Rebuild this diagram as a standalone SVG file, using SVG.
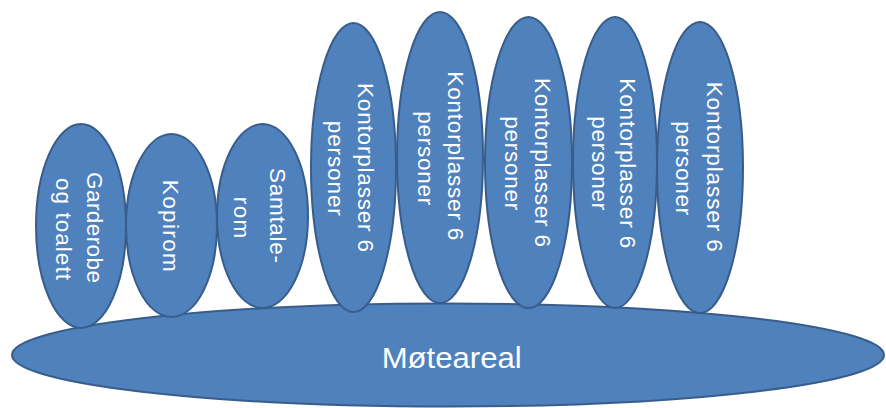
<svg xmlns="http://www.w3.org/2000/svg" width="886" height="408" viewBox="0 0 886 408">
  <style>
    .shape { fill: #4F81BD; stroke: #385D8A; stroke-width: 2; }
    .label { fill: #FFFFFF; font-family: "Liberation Sans", Arial, sans-serif; font-size: 22.5px; text-anchor: middle; }
    .big { font-size: 30px; }
  </style>
  <rect width="886" height="408" fill="#FFFFFF"/>

  <!-- shared meeting area -->
  <g id="moteareal">
    <ellipse class="shape" cx="448" cy="355" rx="436" ry="51.5"/>
    <text class="label big" x="451.7" y="368.3" textLength="140" lengthAdjust="spacingAndGlyphs">Møteareal</text>
  </g>

  <!-- rooms, labels run top to bottom -->
  <g id="garderobe">
    <ellipse class="shape" cx="81" cy="226" rx="45" ry="102"/>
    <g transform="translate(81 226) rotate(90)">
      <text class="label" x="1.5" y="-5.7" textLength="111" lengthAdjust="spacing">Garderobe</text>
      <text class="label" x="3" y="25" textLength="102" lengthAdjust="spacing">og toalett</text>
    </g>
  </g>

  <g id="kopirom">
    <ellipse class="shape" cx="171.5" cy="225.5" rx="45.5" ry="91.5"/>
    <g transform="translate(171.5 225.5) rotate(90)">
      <text class="label" x="0.3" y="8.3" textLength="92" lengthAdjust="spacing">Kopirom</text>
    </g>
  </g>

  <g id="samtalerom">
    <ellipse class="shape" cx="262.5" cy="216" rx="45.5" ry="92"/>
    <g transform="translate(262.5 216) rotate(90)">
      <text class="label" x="-0.5" y="-7.5" textLength="95" lengthAdjust="spacing">Samtale-</text>
      <text class="label" x="1.5" y="28.5" textLength="41.6" lengthAdjust="spacing">rom</text>
    </g>
  </g>

  <g id="kontor-1">
    <ellipse class="shape" cx="353.5" cy="167.5" rx="42.5" ry="144.5"/>
    <g transform="translate(353.5 167.5) rotate(90)">
      <text class="label" x="0" y="-4.8" textLength="169" lengthAdjust="spacing">Kontorplasser 6</text>
      <text class="label" x="0.8" y="25.5" textLength="95" lengthAdjust="spacing">personer</text>
    </g>
  </g>

  <g id="kontor-2">
    <ellipse class="shape" cx="440" cy="157.5" rx="43" ry="145.5"/>
    <g transform="translate(440 157.5) rotate(90)">
      <text class="label" x="-1.7" y="-8.3" textLength="169" lengthAdjust="spacing">Kontorplasser 6</text>
      <text class="label" x="0.8" y="22.5" textLength="94" lengthAdjust="spacing">personer</text>
    </g>
  </g>

  <g id="kontor-3">
    <ellipse class="shape" cx="528.5" cy="162.5" rx="43.5" ry="145.5"/>
    <g transform="translate(528.5 162.5) rotate(90)">
      <text class="label" x="0" y="-6.5" textLength="169" lengthAdjust="spacing">Kontorplasser 6</text>
      <text class="label" x="0.8" y="23.5" textLength="94" lengthAdjust="spacing">personer</text>
    </g>
  </g>

  <g id="kontor-4">
    <ellipse class="shape" cx="615" cy="162.5" rx="42" ry="145.5"/>
    <g transform="translate(615 162.5) rotate(90)">
      <text class="label" x="0.8" y="-5" textLength="170" lengthAdjust="spacing">Kontorplasser 6</text>
      <text class="label" x="0.8" y="23.5" textLength="94" lengthAdjust="spacing">personer</text>
    </g>
  </g>

  <g id="kontor-5">
    <ellipse class="shape" cx="700" cy="167.5" rx="43" ry="145.5"/>
    <g transform="translate(700 167.5) rotate(90)">
      <text class="label" x="-0.8" y="-6.7" textLength="170" lengthAdjust="spacing">Kontorplasser 6</text>
      <text class="label" x="0.8" y="24" textLength="94" lengthAdjust="spacing">personer</text>
    </g>
  </g>

  <!-- no connectors in this layout -->
  <g id="connectors"/>
</svg>
